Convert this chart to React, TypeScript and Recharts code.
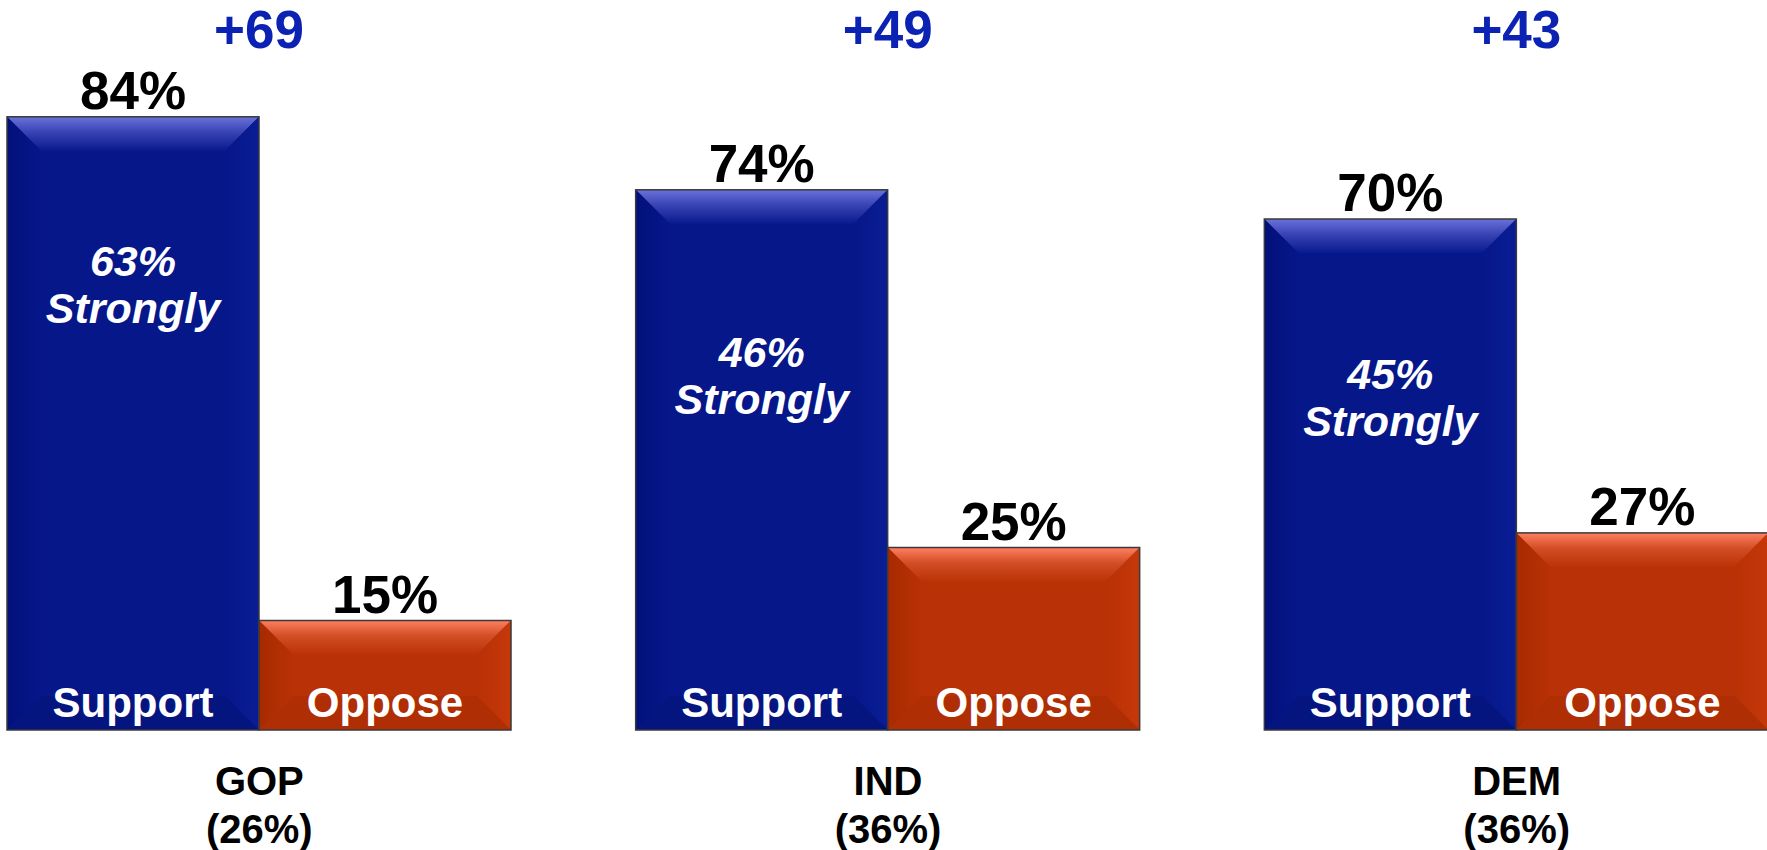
import React from "react";
import { BarChart, Bar, XAxis, YAxis, LabelList } from "recharts";

const groups = ["GOP", "IND", "DEM"];
const groupShares = ["(26%)", "(36%)", "(36%)"];
const supportValues = [84, 74, 70];
const opposeValues = [15, 25, 27];
const stronglyValues = [63, 46, 45];
const netValues = [69, 49, 43];

const data = groups.map((g, i) => ({
  group: g,
  share: groupShares[i],
  support: supportValues[i],
  oppose: opposeValues[i],
  strongly: stronglyValues[i],
  net: netValues[i],
}));

const FONT = '"Liberation Sans", Arial, Helvetica, sans-serif';
const BEVEL = 34;

const PALETTE: Record<string, any> = {
  support: { id: "blu", base: "#06178A", bottom: "#05157F" },
  oppose: { id: "org", base: "#B93106", bottom: "#B02E04" },
};

const BevelBar = (props: any) => {
  const { x, y, width, height, kind } = props;
  if (!height || height <= 0) return null;
  const c = PALETTE[kind];
  const b = Math.min(BEVEL, width / 2, height / 2);
  const x2 = x + width;
  const y2 = y + height;
  return (
    <g>
      <rect x={x} y={y} width={width} height={height} fill={c.base} />
      <polygon
        points={`${x},${y} ${x2},${y} ${x2 - b},${y + b} ${x + b},${y + b}`}
        fill={`url(#${c.id}-top)`}
      />
      <polygon
        points={`${x},${y} ${x + b},${y + b} ${x + b},${y2 - b} ${x},${y2}`}
        fill={`url(#${c.id}-left)`}
      />
      <polygon
        points={`${x2},${y} ${x2},${y2} ${x2 - b},${y2 - b} ${x2 - b},${y + b}`}
        fill={`url(#${c.id}-right)`}
      />
      <polygon
        points={`${x},${y2} ${x + b},${y2 - b} ${x2 - b},${y2 - b} ${x2},${y2}`}
        fill={c.bottom}
      />
      <rect x={x} y={y} width={width} height={height} fill="none" stroke="#3a3a3a" strokeWidth={1.5} />
    </g>
  );
};

const box = (p: any) => {
  const vb = p.viewBox && p.viewBox.width !== undefined ? p.viewBox : p;
  return { x: vb.x, y: vb.y, width: vb.width, height: vb.height };
};

const TopValue = (p: any) => {
  const { x, y, width } = box(p);
  return (
    <text x={x + width / 2} y={y - 8} textAnchor="middle" fill="#000" fontFamily={FONT} fontWeight="bold" fontSize={53}>
      {`${p.value}%`}
    </text>
  );
};

const InnerName = (name: string) => (p: any) => {
  const { x, y, width, height } = box(p);
  return (
    <text x={x + width / 2} y={y + height - 13} textAnchor="middle" fill="#fff" fontFamily={FONT} fontWeight="bold" fontSize={42}>
      {name}
    </text>
  );
};

// net lead, centred over each pair
const NetLabel = (p: any) => {
  const { x, width } = box(p);
  return (
    <text x={x + width} y={48} textAnchor="middle" fill="#0B22B3" fontFamily={FONT} fontWeight="bold" fontSize={53}>
      {`+${netValues[p.index]}`}
    </text>
  );
};

const StronglyLabel = (p: any) => {
  const { x, y, width, height } = box(p);
  const i = p.index;
  const s = stronglyValues[i];
  const v = supportValues[i];
  const base = y + 106 + 0.35 * height * (1 - s / v);
  const cx = x + width / 2;
  return (
    <text textAnchor="middle" fill="#fff" fontFamily={FONT} fontWeight="bold" fontStyle="italic" fontSize={43}>
      <tspan x={cx} y={base}>{`${s}%`}</tspan>
      <tspan x={cx} y={base + 47}>Strongly</tspan>
    </text>
  );
};

const GroupTick = (p: any) => {
  const { x, y, payload, index } = p;
  return (
    <text textAnchor="middle" fill="#000" fontFamily={FONT} fontWeight="bold" fontSize={40}>
      <tspan x={x} y={y + 65}>{payload.value}</tspan>
      <tspan x={x} y={y + 113}>{groupShares[index]}</tspan>
    </text>
  );
};

export default function App() {
  return (
    <div style={{ width: 1767, height: 850, position: "relative", overflow: "hidden", background: "#fff" }}>
      <style>{`body{margin:0}`}</style>
      <BarChart
        width={1886}
        height={850}
        data={data}
        margin={{ top: 0, right: 0, bottom: 0, left: 0 }}
        barSize={252}
        barGap={0}
        style={{ position: "absolute", left: -55, top: 0 }}
      >
        <defs>
          <linearGradient id="blu-top" x1="0" y1="0" x2="0" y2="1">
            <stop offset="0" stopColor="#6A72DA" />
            <stop offset="0.45" stopColor="#3943B4" />
            <stop offset="1" stopColor="#081A8E" />
          </linearGradient>
          <linearGradient id="blu-left" x1="0" y1="0" x2="1" y2="0">
            <stop offset="0" stopColor="#02107A" />
            <stop offset="1" stopColor="#06178A" />
          </linearGradient>
          <linearGradient id="blu-right" x1="0" y1="0" x2="1" y2="0">
            <stop offset="0" stopColor="#06178A" />
            <stop offset="1" stopColor="#0A1D94" />
          </linearGradient>
          <linearGradient id="org-top" x1="0" y1="0" x2="0" y2="1">
            <stop offset="0" stopColor="#FF7F60" />
            <stop offset="0.45" stopColor="#D24E26" />
            <stop offset="1" stopColor="#BB3307" />
          </linearGradient>
          <linearGradient id="org-left" x1="0" y1="0" x2="1" y2="0">
            <stop offset="0" stopColor="#A82A00" />
            <stop offset="1" stopColor="#B93106" />
          </linearGradient>
          <linearGradient id="org-right" x1="0" y1="0" x2="1" y2="0">
            <stop offset="0" stopColor="#B93106" />
            <stop offset="1" stopColor="#C5380A" />
          </linearGradient>
        </defs>
        <XAxis
          dataKey="group"
          height={120}
          axisLine={false}
          tickLine={false}
          tickSize={0}
          tickMargin={0}
          interval={0}
          tick={<GroupTick />}
        />
        <YAxis hide domain={[0, 100]} />
        <Bar dataKey="support" isAnimationActive={false} shape={(p: any) => <BevelBar {...p} kind="support" />}>
          <LabelList dataKey="support" content={TopValue} />
          <LabelList dataKey="net" content={NetLabel} />
          <LabelList dataKey="strongly" content={StronglyLabel} />
          <LabelList dataKey="support" content={InnerName("Support")} />
        </Bar>
        <Bar dataKey="oppose" isAnimationActive={false} shape={(p: any) => <BevelBar {...p} kind="oppose" />}>
          <LabelList dataKey="oppose" content={TopValue} />
          <LabelList dataKey="oppose" content={InnerName("Oppose")} />
        </Bar>
      </BarChart>
    </div>
  );
}
